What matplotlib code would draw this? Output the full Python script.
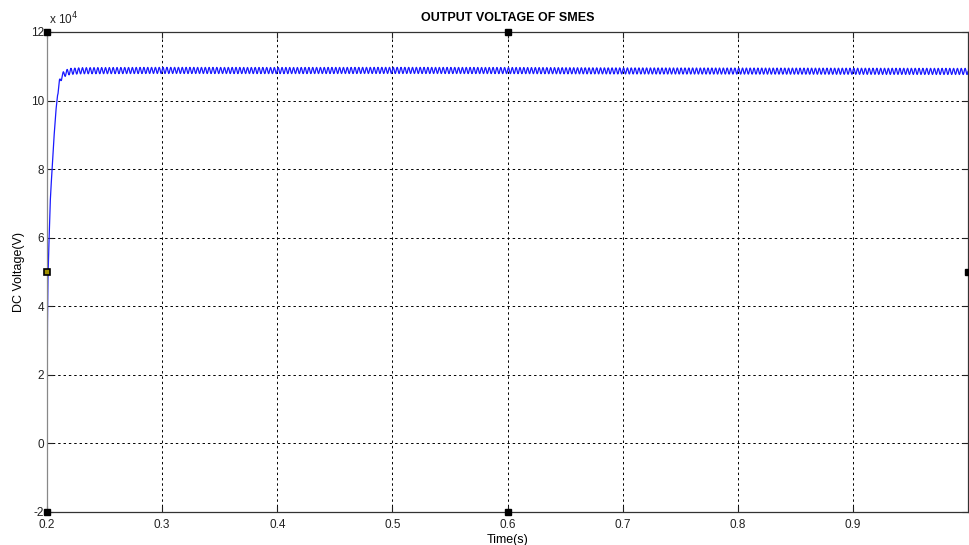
import numpy as np
import matplotlib
matplotlib.use("Agg")
import matplotlib.pyplot as plt

plt.rcParams['font.family'] = ['Liberation Sans', 'DejaVu Sans']

# 包絡線（読み取り値, V）
env_t = [0.2000, 0.2001, 0.2009, 0.2030, 0.2060, 0.2080, 0.2095, 0.2110, 0.2130,
         0.2160, 0.2200, 0.2300, 0.3000, 0.4000, 0.5000, 0.6000, 0.7000, 0.8000,
         0.9000, 1.0000]
env_v = [0, 26000, 50000, 72000, 89000, 98000, 102500, 105500, 107200,
         108000, 108500, 108700, 108800, 108750, 108800, 108750, 108650, 108600,
         108550, 108500]

# リップル1周期分（読み取り値, V）と周波数
ripple_shape = [0, 600, 900, 600, 0, -600, -900, -600]
ripple_hz = 300
ripple_start = 0.2095

x_ticks = [0.2, 0.3, 0.4, 0.5, 0.6, 0.7, 0.8, 0.9]
y_ticks = [-2, 0, 2, 4, 6, 8, 10, 12]

# 波形を組み立てる
n_cyc = int(round((1.0 - 0.2) * ripple_hz))
n_per = len(ripple_shape)
t = 0.2 + np.arange(n_cyc * n_per + 1) / (ripple_hz * n_per)
rip = np.tile(ripple_shape, n_cyc + 1)[:len(t)]
v = np.interp(t, env_t, env_v) + np.where(t > ripple_start, rip, 0)
t = np.concatenate([[0.2], t])
v = np.concatenate([[0], v])

fig = plt.figure(figsize=(9.69, 5.45), dpi=100)
ax = fig.add_axes([47 / 969, 1 - 512 / 545, 921 / 969, 480 / 545])

ax.plot(t, v / 1e4, color='#1a1aff', lw=0.9)

ax.set_xlim(0.2, 1.0)
ax.set_ylim(-2, 12)
ax.set_xticks(x_ticks)
ax.set_xticklabels([f'{x:g}' for x in x_ticks])
ax.set_yticks(y_ticks)
ax.set_yticklabels([str(y) for y in y_ticks])
ax.tick_params(direction='in', length=4, width=0.8, labelsize=8.5,
               top=True, right=True, pad=2, colors='#222222')
ax.tick_params(axis='x', pad=5)
ax.grid(True, color='black', linestyle=(0, (2.5, 3)), lw=0.7)

for s in ax.spines.values():
    s.set_color('#333333')
    s.set_linewidth(0.9)
ax.spines['left'].set_color('#888888')

ax.set_title('OUTPUT VOLTAGE OF SMES', fontsize=9, fontweight='bold', pad=8)
ax.set_xlabel('Time(s)', fontsize=9, labelpad=2)
ax.set_ylabel('DC Voltage(V)', fontsize=9, labelpad=4)
fig.text(49 / 969, 1 - 24 / 545, r'x 10$^{4}$', fontsize=8.5, color='#222222')

# 編集ハンドル
for hx, hy in [(0, 1), (0.5, 1), (0, 0), (0.5, 0), (1, 0.5)]:
    ax.plot(hx, hy, 's', ms=4.5, color='black', transform=ax.transAxes,
            clip_on=False, zorder=10)
ax.plot(0, 0.5, 's', ms=5, mfc='#a09000', mec='black', mew=1.2,
        transform=ax.transAxes, clip_on=False, zorder=10)

fig.savefig('out.png', dpi=100, facecolor='white')
